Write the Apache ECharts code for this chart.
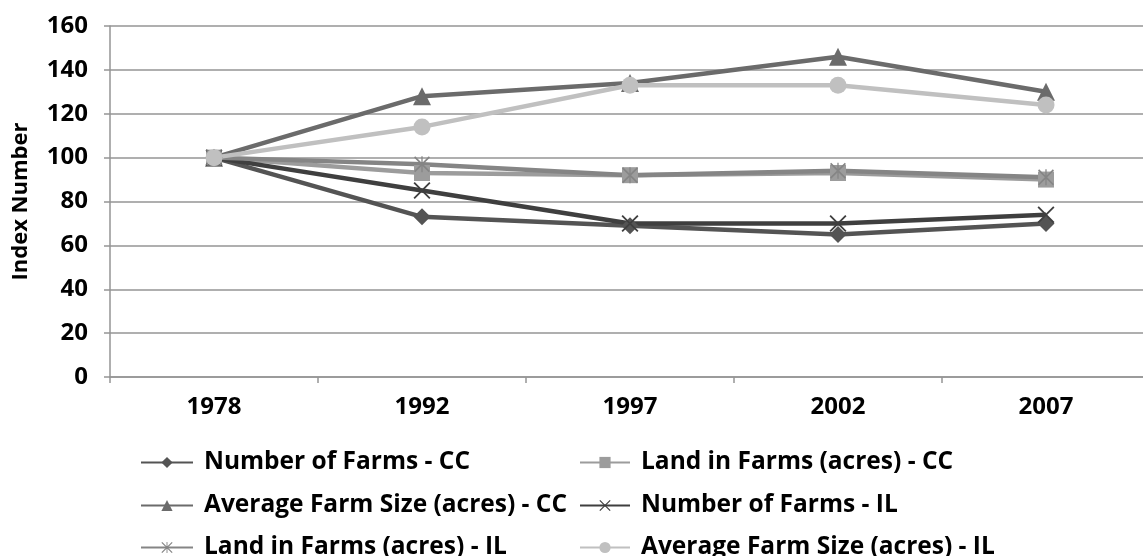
<!DOCTYPE html>
<html><head><meta charset="utf-8">
<script src="https://cdn.jsdelivr.net/npm/echarts@6/dist/echarts.min.js"></script>
<style>html,body{margin:0;padding:0;background:#fff}#c{width:1143px;height:556px}</style>
</head><body><div id="c"></div>
<script>
const categories = ['1978', '1992', '1997', '2002', '2007'];
const numberFarmsCC = [100, 73, 69, 65, 70];
const landFarmsCC = [100, 93, 92, 93, 90];
const avgSizeCC = [100, 128, 134, 146, 130];
const numberFarmsIL = [100, 85, 70, 70, 74];
const landFarmsIL = [100, 97, 92, 94, 91];
const avgSizeIL = [100, 114, 133, 133, 124];
const seriesNames = ['Number of Farms - CC', 'Land in Farms (acres) - CC', 'Average Farm Size (acres) - CC', 'Number of Farms - IL', 'Land in Farms (acres) - IL', 'Average Farm Size (acres) - IL'];

const FONT = '"Open Sans", "Noto Sans", sans-serif';
const xPath = 'path://M0,1.5 L1.5,0 L10,8.5 L18.5,0 L20,1.5 L11.5,10 L20,18.5 L18.5,20 L10,11.5 L1.5,20 L0,18.5 L8.5,10 Z';
const starPath = 'path://M0,1.5 L1.5,0 L10,8.5 L18.5,0 L20,1.5 L11.5,10 L20,18.5 L18.5,20 L10,11.5 L1.5,20 L0,18.5 L8.5,10 Z M9.2,0 L10.8,0 L10.8,20 L9.2,20 Z';

function mk(name, data, color, symbol, size) {
  return {
    name, type: 'line', data, symbol, symbolSize: size,
    lineStyle: { color, width: 4.5 },
    itemStyle: { color },
    z: 2
  };
}

const legendText = { fontFamily: FONT, fontWeight: 'bold', fontSize: 24.5, color: '#000', padding: [0, 0, 0, 6] };
function lg(name, left, top, w) {
  return { data: [name], orient: 'horizontal', left, top, padding: 0, itemWidth: w, itemHeight: 14, textStyle: legendText };
}
const chart = echarts.init(document.getElementById('c'));
chart.setOption({
  animation: false,
  backgroundColor: '#fff',
  grid: { left: 110, top: 26, width: 1040, height: 351, containLabel: false, outerBoundsMode: 'none' },
  legend: [
    lg(seriesNames[0], 140, 450, 52),
    lg(seriesNames[2], 140, 493, 52),
    lg(seriesNames[4], 140, 535, 52),
    lg(seriesNames[1], 579, 450, 50),
    lg(seriesNames[3], 579, 493, 50),
    lg(seriesNames[5], 579, 535, 50)
  ],
  xAxis: {
    type: 'category', data: categories, boundaryGap: true,
    axisLine: { lineStyle: { color: '#959595', width: 1.5 } },
    axisTick: { show: true, length: 6, lineStyle: { color: '#959595', width: 1.5 } },
    axisLabel: { fontFamily: FONT, fontWeight: 'bold', fontSize: 24, color: '#000', margin: 18 }
  },
  yAxis: {
    type: 'value', min: 0, max: 160, interval: 20,
    name: 'Index Number', nameLocation: 'middle', nameGap: 78, nameRotate: 90,
    nameTextStyle: { fontFamily: FONT, fontWeight: 'bold', fontSize: 22, color: '#000' },
    axisLine: { show: true, lineStyle: { color: '#959595', width: 1.5 } },
    axisTick: { show: true, length: 6, lineStyle: { color: '#959595', width: 1.5 } },
    splitLine: { lineStyle: { color: '#959595', width: 1.5 } },
    axisLabel: { fontFamily: FONT, fontWeight: 'bold', fontSize: 24, color: '#000', margin: 22 }
  },
  series: [
    mk(seriesNames[0], numberFarmsCC, '#545454', 'diamond', 17),
    mk(seriesNames[1], landFarmsCC, '#9c9c9c', 'rect', 16),
    mk(seriesNames[2], avgSizeCC, '#6b6b6b', 'triangle', 18),
    mk(seriesNames[3], numberFarmsIL, '#3f3f3f', xPath, 17),
    mk(seriesNames[4], landFarmsIL, '#858585', starPath, 16),
    mk(seriesNames[5], avgSizeIL, '#c0c0c0', 'circle', 17)
  ]
});
</script></body></html>
